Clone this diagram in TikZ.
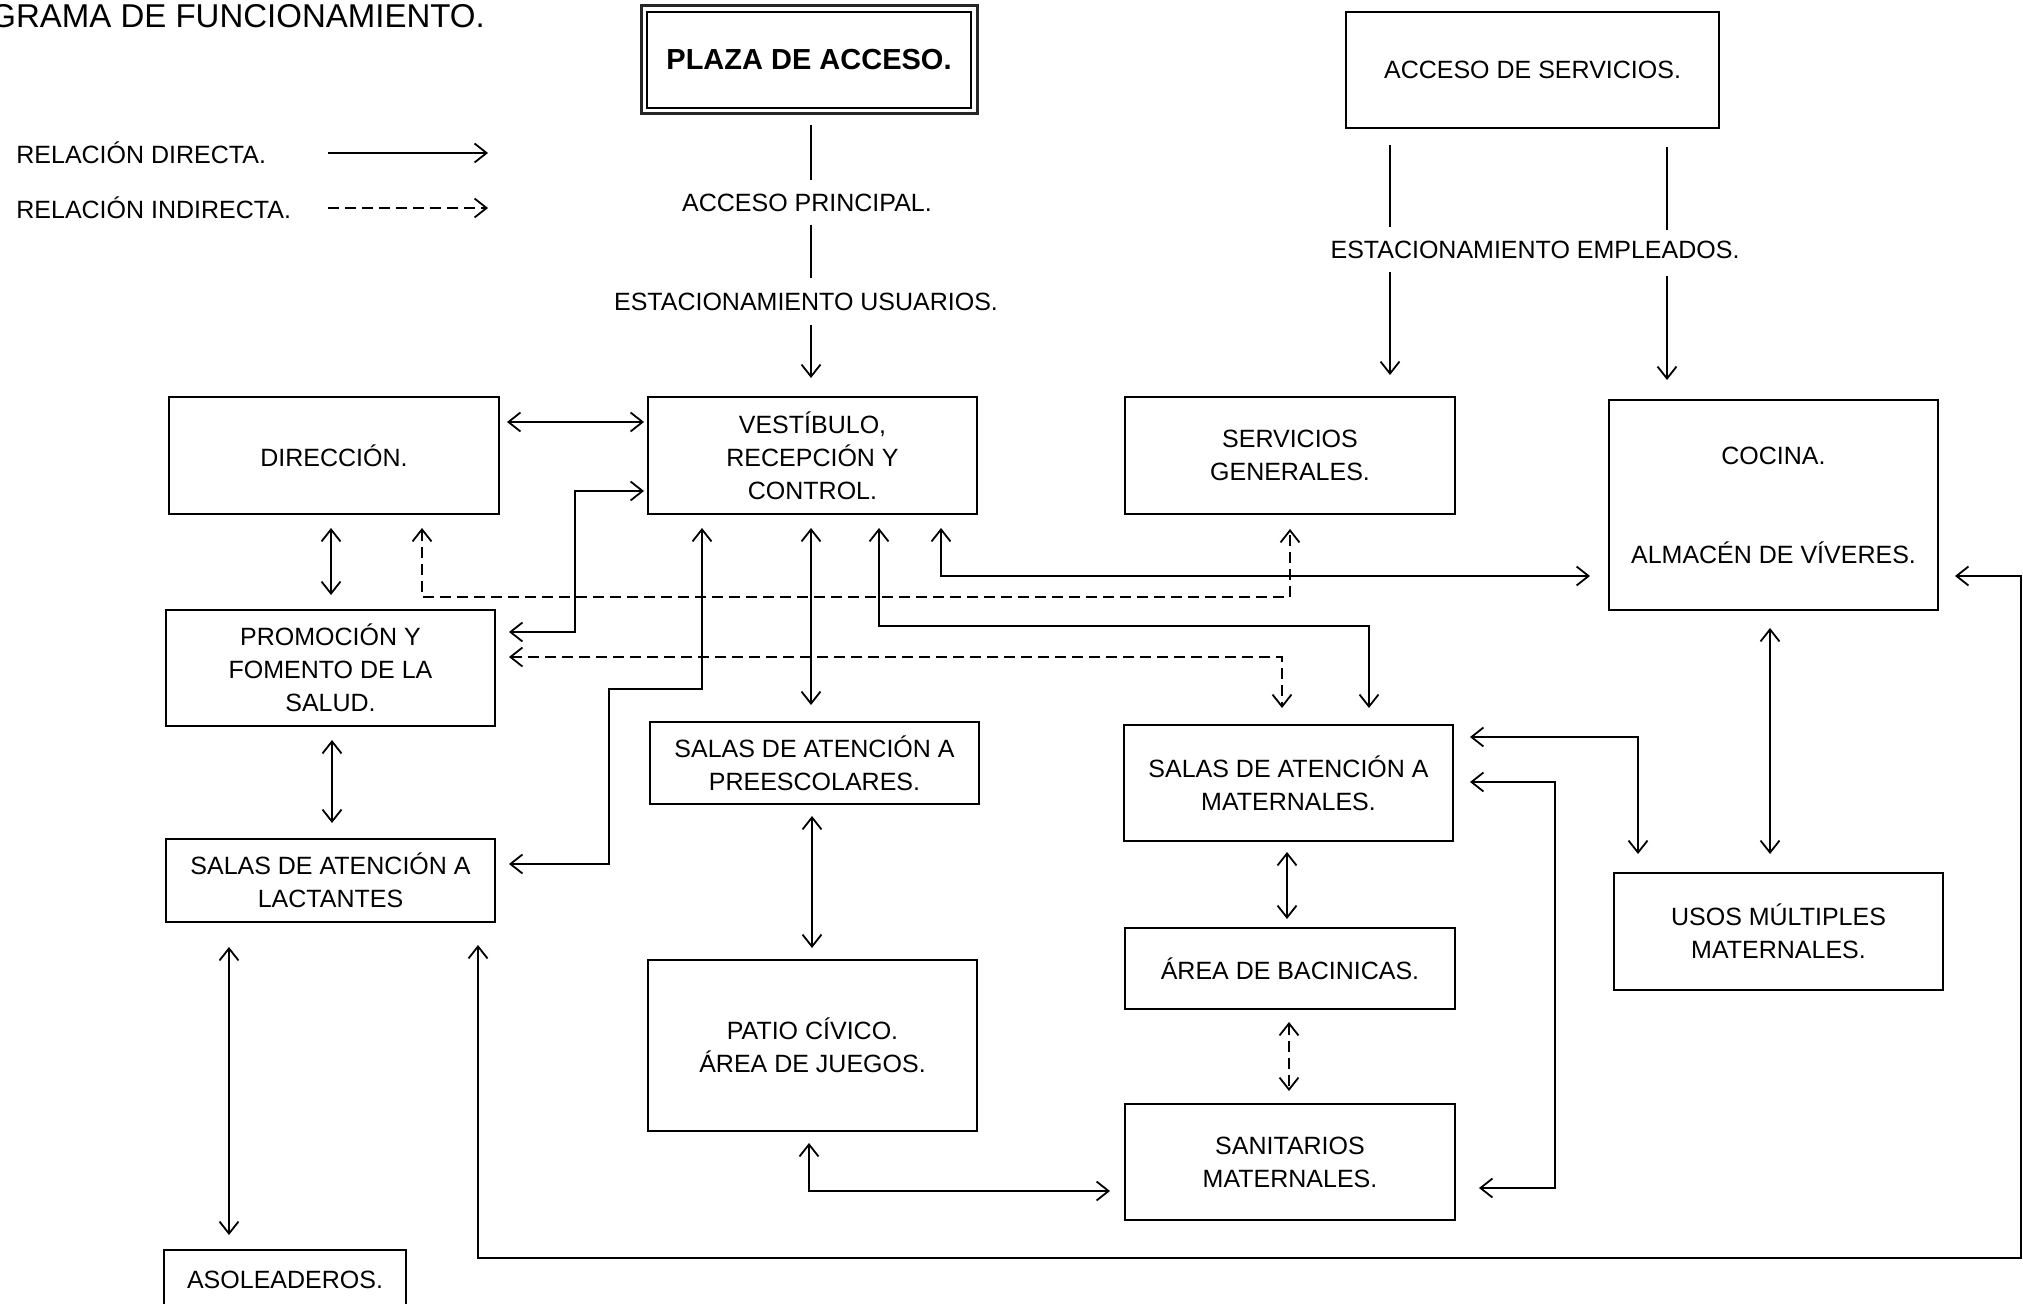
\documentclass[tikz,border=0pt]{standalone}
\usepackage{fontspec}
\setmainfont{Liberation Sans}
\usetikzlibrary{arrows.meta,calc}
\newcommand{\boxfont}{\fontsize{12.5}{16.5}\selectfont}
\newcommand{\titlefont}{\fontsize{16.5}{20}\selectfont}
\newcommand{\plazafont}{\fontsize{14.5}{18}\selectfont\bfseries}
\begin{document}
\begin{tikzpicture}[x=0.5pt,y=-0.5pt,
  box/.style={draw, line width=1.1pt, inner sep=0pt, outer sep=0pt, align=center, font=\boxfont},
  lbl/.style={inner sep=0pt, font=\boxfont},
  conn/.style={line width=0.9pt},
  bi/.style={conn, {Straight Barb[length=6pt,width=9.5pt]}-{Straight Barb[length=6pt,width=9.5pt]}},
  uni/.style={conn, -{Straight Barb[length=6pt,width=9.5pt]}},
  dsh/.style={dash pattern=on 5.5pt off 3pt}]

\clip (0,0) rectangle (2023,1304);
\fill[white] (0,0) rectangle (2023,1304);

% title and legend
\node[anchor=west, inner sep=0pt, font=\titlefont] (title) at (-10,16) {GRAMA DE FUNCIONAMIENTO.};
\node[lbl, anchor=west] (legA) at (16,153) {RELACIÓN DIRECTA.};
\node[lbl, anchor=west] (legB) at (16,208) {RELACIÓN INDIRECTA.};
\coordinate (la1) at (328,153); \coordinate (la2) at (488,153);
\coordinate (lb1) at (328,208); \coordinate (lb2) at (488,208);
\draw[uni] (la1) -- (la2);
\draw[uni, dsh] (lb1) -- (lb2);

% boxes
\node[box, line width=1.5pt, draw=black!85, minimum width=168pt, minimum height=54pt, font=\plazafont] (plaza) at (809,60) {PLAZA DE ACCESO.};
\draw[line width=0.9pt] ($(plaza.south west)+(6,-6)$) rectangle ($(plaza.north east)+(-6,6)$);
\node[box, minimum width=186.5pt, minimum height=58pt] (acc) at (1532.5,70) {ACCESO DE SERVICIOS.};
\node[box, minimum width=165pt, minimum height=58.5pt] (dir) at (334,455.5) {DIRECCIÓN.};
\node[box, minimum width=164.5pt, minimum height=58.5pt] (vest) at (812.5,455.5) {VESTÍBULO,\\RECEPCIÓN Y\\CONTROL.};
\node[box, minimum width=165pt, minimum height=58.5pt] (serv) at (1290,455.5) {SERVICIOS\\GENERALES.};
\node[box, minimum width=164.5pt, minimum height=105pt] (coc) at (1773.5,505) {COCINA.\\[33pt]ALMACÉN DE VÍVERES.};
\node[box, minimum width=164.5pt, minimum height=58pt] (prom) at (330.5,668) {PROMOCIÓN Y\\FOMENTO DE LA\\SALUD.};
\node[box, minimum width=164.5pt, minimum height=41pt] (pre) at (814.5,763) {SALAS DE ATENCIÓN A\\PREESCOLARES.};
\node[box, minimum width=164.5pt, minimum height=58pt] (mat) at (1288.5,783) {SALAS DE ATENCIÓN A\\MATERNALES.};
\node[box, minimum width=164.5pt, minimum height=41.5pt] (lac) at (330.5,880.5) {SALAS DE ATENCIÓN A\\LACTANTES};
\node[box, minimum width=164.5pt, minimum height=58.5pt] (usos) at (1778.5,931.5) {USOS MÚLTIPLES\\MATERNALES.};
\node[box, minimum width=165pt, minimum height=40.5pt] (bac) at (1290,968.5) {ÁREA DE BACINICAS.};
\node[box, minimum width=164.5pt, minimum height=85.5pt] (patio) at (812.5,1045.5) {PATIO CÍVICO.\\ÁREA DE JUEGOS.};
\node[box, minimum width=165pt, minimum height=58pt] (san) at (1290,1162) {SANITARIOS\\MATERNALES.};
\node[box, minimum width=121pt, minimum height=30pt] (aso) at (285,1280) {ASOLEADEROS.};

% access labels
\node[lbl] (lblA) at (807,203) {ACCESO PRINCIPAL.};
\node[lbl] (lblB) at (806,302) {ESTACIONAMIENTO USUARIOS.};
\node[lbl] (lblC) at (1535,250) {ESTACIONAMIENTO EMPLEADOS.};

% plaza -> vestibulo
\draw[conn] ($(plaza.south)+(2,11)$) -- ($(plaza.south)+(2,66)$);
\draw[conn] ($(plaza.south)+(2,111)$) -- ($(plaza.south)+(2,164)$);
\draw[uni] ($(vest.north)+(-1.5,-72)$) -- ($(vest.north)+(-1.5,-19)$);

% acceso de servicios -> servicios generales / cocina
\draw[conn] ($(acc.south)+(-142.5,17)$) -- ($(acc.south)+(-142.5,99)$);
\draw[uni] ($(serv.north)+(100,-125)$) -- ($(serv.north)+(100,-22)$);
\draw[conn] ($(acc.south)+(134.5,19)$) -- ($(acc.south)+(134.5,102)$);
\draw[uni] ($(coc.north)+(-106.5,-124)$) -- ($(coc.north)+(-106.5,-20)$);

% relations
\draw[bi] ($(dir.east)+(8,-33.5)$) -- ($(vest.west)+(-4,-33.5)$);
\draw[bi] ($(prom.east)+(14,-36)$) -- ++(66,0) |- ($(vest.west)+(-4,35.5)$);
\draw[bi] ($(dir.south)+(-3,14)$) -- ($(prom.north)+(0.5,-15)$);
\draw[bi, dsh] ($(dir.south)+(88,14)$) -- ++(0,69) -| ($(serv.south)+(0,15)$);
\draw[bi] ($(vest.south)+(-1.5,14)$) -- ($(pre.north)+(-3.5,-17)$);
\draw[bi] ($(vest.south)+(128.5,14)$) |- ($(coc.west)+(-19,71)$);
\draw[bi] ($(vest.south)+(66.5,14)$) -- ++(0,98) -| ($(mat.north)+(80.5,-17)$);
\draw[bi, dsh] ($(prom.east)+(14,-11)$) -| ($(mat.north)+(-6.5,-17)$);
\draw[bi] ($(vest.south)+(-110.5,14)$) -- ++(0,161) -- ++(-93,0) |- ($(lac.east)+(14,-16.5)$);
\draw[bi] ($(prom.south)+(1.5,14)$) -- ($(lac.north)+(1.5,-16)$);
\draw[bi] ($(lac.south)+(-101.5,25)$) -- ($(aso.north)+(-56,-15)$);
\draw[bi] ($(lac.south)+(147.5,23)$) -- ++(0,313) -- ++(1543,0) |- ($(coc.east)+(17,71)$);
\draw[bi] ($(pre.south)+(-2.5,12)$) -- ($(patio.north)+(-0.5,-12)$);
\draw[bi] ($(patio.south)+(-3.5,12)$) |- ($(san.west)+(-15,29)$);
\draw[bi] ($(mat.south)+(-1.5,11)$) -- ($(bac.north)+(-3,-9)$);
\draw[bi, dsh] ($(bac.south)+(-1,13)$) -- ($(san.north)+(-1,-13)$);
\draw[bi] ($(mat.east)+(17,-1)$) -- ++(85,0) |- ($(san.east)+(24,26)$);
\draw[bi] ($(mat.east)+(17,-46)$) -| ($(usos.north)+(-140.5,-19)$);
\draw[bi] ($(coc.south)+(-3.5,18)$) -- ($(usos.north)+(-8.5,-19)$);
\end{tikzpicture}
\end{document}
